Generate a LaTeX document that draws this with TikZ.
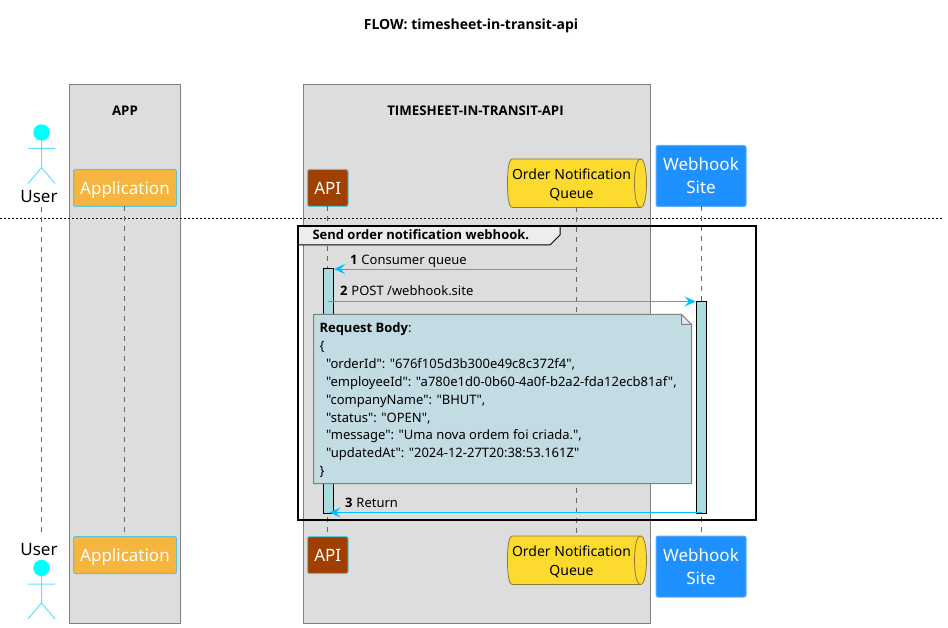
\documentclass[tikz,border=0pt]{standalone}
\usepackage{fontspec}
\setmainfont{Noto Sans}
\newfontfamily\notefont{Noto Sans}
\newfontfamily\heavyfont{Open Sans}
\newcommand{\heavy}[1]{{\heavyfont\bfseries #1}}
\usetikzlibrary{arrows.meta,positioning}
\definecolor{boxgray}{HTML}{DDDDDD}
\definecolor{boxline}{HTML}{808080}
\definecolor{peer}{HTML}{5EC4D6}
\definecolor{appfill}{HTML}{F5B53F}
\definecolor{apifill}{HTML}{A04000}
\definecolor{hookfill}{HTML}{1E90FF}
\definecolor{queuefill}{HTML}{FDDB2E}
\definecolor{queueline}{HTML}{8A7A3C}
\definecolor{notefill}{HTML}{C3DBE3}
\definecolor{actfill}{HTML}{A9DCDF}
\definecolor{msg}{HTML}{00BFFF}
\definecolor{actorline}{HTML}{66DDFF}
\definecolor{actorhead}{HTML}{00FFFF}
\tikzset{
  every node/.style={inner sep=0pt,outer sep=0pt},
  boxarea/.style={draw=boxline,fill=boxgray,line width=1pt},
  boxtitle/.style={font=\fontsize{13.3}{15}\selectfont\heavyfont\bfseries,text=black,anchor=center},
  part/.style={rounded corners=2pt,line width=1pt,font=\fontsize{17}{23}\selectfont,text=white,align=center,anchor=north west},
  appbox/.style={part,draw=peer,fill=appfill,minimum width=103pt,minimum height=37pt,text depth=0pt},
  apibox/.style={part,draw=peer,fill=apifill,minimum width=40.5pt,minimum height=37pt},
  hookbox/.style={part,draw=hookfill!70!white,fill=hookfill,minimum width=90pt,minimum height=61pt},
  queuetext/.style={font=\fontsize{14}{19}\selectfont,text=black,align=center},
  queueanchor/.style={minimum width=138.5pt,minimum height=48.5pt,anchor=north west},
  actorname/.style={font=\fontsize{17}{20}\selectfont,text=black,anchor=center},
  lifeline/.style={draw=black!60,line width=1pt,dash pattern=on 5pt off 5pt},
  actorstroke/.style={draw=actorline,line width=1pt},
  activation/.style={draw=black,fill=actfill,line width=1pt,anchor=north west,minimum width=10.5pt},
  message/.style={draw=msg,line width=1pt,-{Stealth[length=11pt,width=10pt,inset=4.5pt]}},
  msglabel/.style={font=\fontsize{13}{16}\selectfont,text=black,anchor=base west},
  notebody/.style={font=\fontsize{13}{17.85}\selectfont\notefont,text=black,align=left,anchor=north west},
}
\newcommand{\actorfig}[1]{%
  \fill[actorhead] (41.5,#1) circle (8.2);
  \draw[actorstroke] (41.5,#1+8) -- (41.5,#1+35) (28,#1+16) -- (55,#1+16)
    (28,#1+51) -- (41.5,#1+35) -- (55,#1+51);
}
\newcommand{\queueshape}[3]{%
  \draw[draw=queueline,fill=queuefill,line width=.8pt]
    (#1+5,#2) -- (#1+133,#2) .. controls (#1+137,#2) and (#1+139,#2+12) .. (#1+139,#2+#3/2)
    .. controls (#1+139,#2+#3-12) and (#1+137,#2+#3) .. (#1+133,#2+#3)
    -- (#1+5,#2+#3) .. controls (#1+1,#2+#3) and (#1,#2+#3-12) .. (#1,#2+#3/2)
    .. controls (#1,#2+12) and (#1+1,#2) .. (#1+5,#2) -- cycle;
  \draw[draw=queueline,line width=.8pt]
    (#1+133,#2) .. controls (#1+129,#2) and (#1+127,#2+12) .. (#1+127,#2+#3/2)
    .. controls (#1+127,#2+#3-12) and (#1+129,#2+#3) .. (#1+133,#2+#3);
}
\begin{document}
\begin{tikzpicture}[x=1pt,y=-1pt]
\useasboundingbox (0,0) rectangle (948,628);
\node[font=\fontsize{14}{16}\selectfont\heavyfont\bfseries,text=black] (title) at (471,26) {FLOW: timesheet-in-transit-api};

\draw[boxarea] (69.5,84.5) rectangle (180.5,623.5);
\draw[boxarea] (303.5,84.5) rectangle (650.5,623.5);
\node[boxtitle] (apptitle) at (125,111) {APP};
\node[boxtitle] (apititle) at (475.5,111) {TIMESHEET-IN-TRANSIT-API};

\coordinate (divL) at (0,218);
\coordinate (divR) at (943,218);
\draw[black,line width=.8pt,dash pattern=on 2pt off 2pt] (divL) -- (divR);

% top participants
\actorfig{132.5}
\node[actorname] (userT) at (39,197) {User};
\node[appbox] (appT) at (73.5,169.5) {Application};
\node[apibox] (apiT) at (307.5,169.5) {API};
\queueshape{507.5}{159}{48.5}
\node[queueanchor] (queueT) at (507.5,159) {};
\node[queuetext] at (571.5,185) {Order Notification\\Queue};
\node[hookbox] (hookT) at (656,145.5) {Webhook\\Site};

% bottom participants
\actorfig{568}
\node[actorname] (userB) at (39,550) {User};
\node[appbox] (appB) at (73.5,536.5) {Application};
\node[apibox] (apiB) at (307.5,536.5) {API};
\queueshape{507.5}{536}{48.5}
\node[queueanchor] (queueB) at (507.5,536) {};
\node[queuetext] at (571.5,562) {Order Notification\\Queue};
\node[hookbox] (hookB) at (656,536) {Webhook\\Site};

% lifelines
\coordinate (uT) at (41.5,207); \coordinate (uB) at (41.5,533);
\draw[lifeline] (uT) -- (uB);
\draw[lifeline] ([xshift=-.5pt]appT.south) -- ([xshift=-.5pt]appB.north);
\draw[lifeline] (apiT.south) -- (apiB.north);
\draw[lifeline] ([xshift=-.5pt]queueT.south) -- ([xshift=-.5pt]queueB.north);
\draw[lifeline] (hookT.south) -- (hookB.north);

% group frame
\draw[black,line width=2pt] (297.5,226) rectangle (756,520);
\draw[black,fill=black!7,line width=1pt] (297.5,226) -- (560,226) -- (560,235) -- (550,245) -- (297.5,245) -- cycle;
\draw[black,line width=2pt] (297.5,226) rectangle (756,520);
\node[font=\fontsize{13}{16}\selectfont\heavyfont\bfseries,text=black,anchor=base west] (grouplabel) at (312.5,240) {Send order notification webhook.};

% activations
\node[activation,minimum height=244pt] (actApi) at (323.2,269) {};
\node[activation,minimum height=211.5pt] (actHook) at (696.3,301.5) {};

% messages
\coordinate (m1s) at (576.5,269); \coordinate (m1e) at (334,269);
\coordinate (m2s) at (327.5,301.5); \coordinate (m2e) at (695.5,301.5);
\coordinate (m3s) at (701.5,512.5); \coordinate (m3e) at (329.5,512.5);
\draw[message,line width=.8pt] (m1s) -- (m1e);
\draw[message,line width=.8pt] (m2s) -- (m2e);
\draw[message,line width=1.2pt] (m3s) -- (m3e);
\node[msglabel] (l1) at (350,265) {\heavy{1}\hspace{4pt}Consumer queue};
\node[msglabel] (l2) at (340,296) {\heavy{2}\hspace{4pt}POST /webhook.site};
\node[msglabel] (l3) at (345,507) {\heavy{3}\hspace{4pt}Return};

% note
\draw[draw=boxline,fill=notefill,line width=1pt] (313.5,314.5) -- (681.5,314.5) -- (691.5,324.5) -- (691.5,483.5) -- (313.5,483.5) -- cycle;
\draw[draw=boxline,fill=notefill!50!white,line width=1pt] (681.5,314.5) -- (681.5,324.5) -- (691.5,324.5) -- cycle;
\node[notebody] (note) at (319.5,323) {\heavy{Request Body}:\\
\{\\
\hspace{6.5pt}"orderId": "676f105d3b300e49c8c372f4",\\
\hspace{6.5pt}"employeeId": "a780e1d0-0b60-4a0f-b2a2-fda12ecb81af",\\
\hspace{6.5pt}"companyName": "BHUT",\\
\hspace{6.5pt}"status": "OPEN",\\
\hspace{6.5pt}"message": "Uma nova ordem foi criada.",\\
\hspace{6.5pt}"updatedAt": "2024-12-27T20:38:53.161Z"\\
\}};
\end{tikzpicture}
\end{document}
